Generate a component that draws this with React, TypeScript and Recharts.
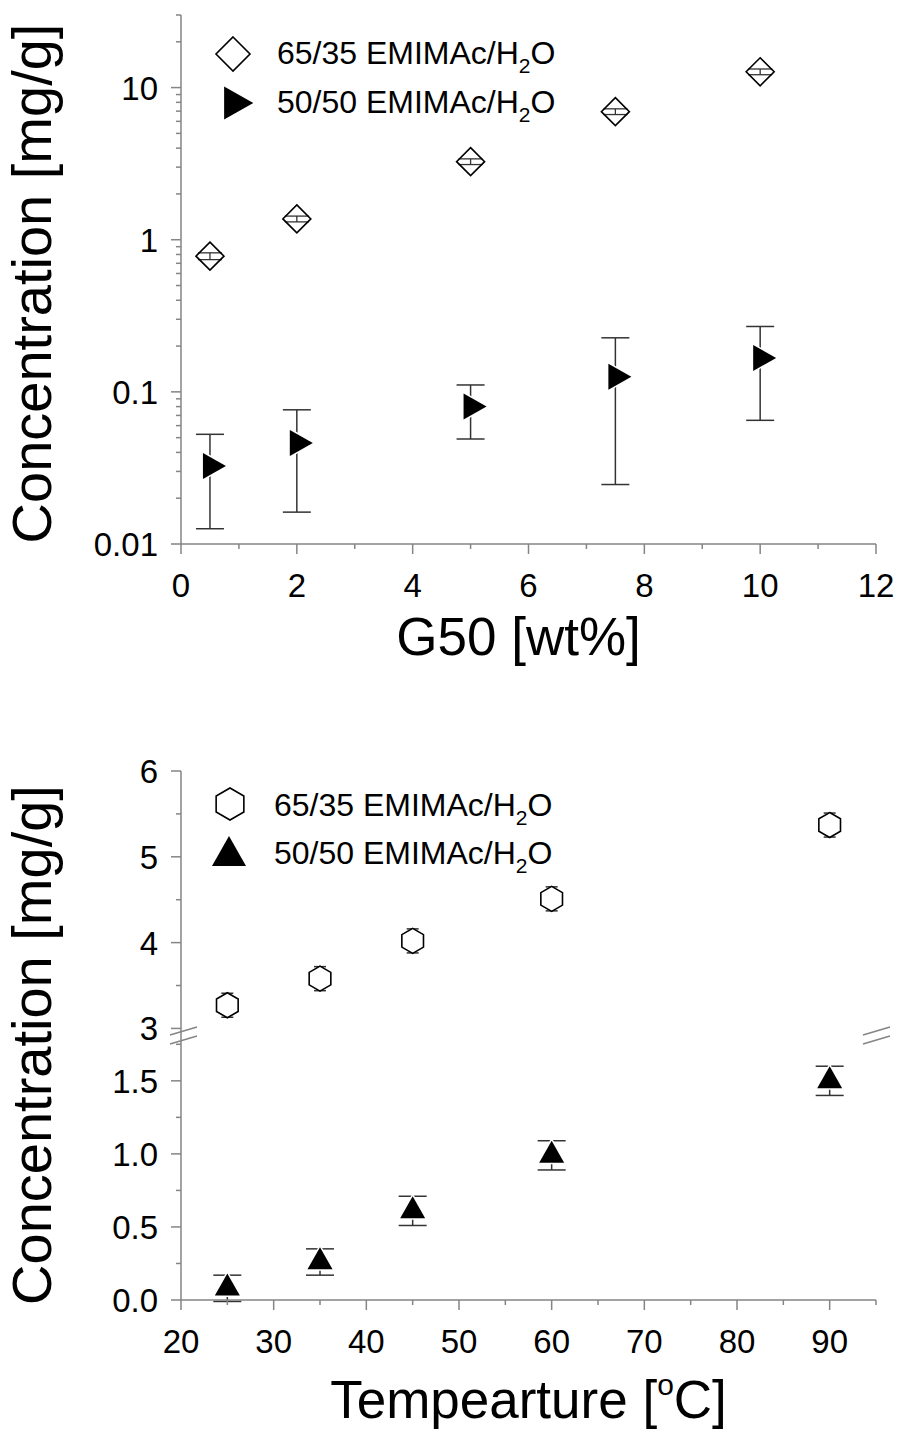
import {
  ScatterChart,
  Scatter,
  XAxis,
  YAxis,
  ErrorBar,
  Label,
  Legend,
} from 'recharts';

const FONT = '"Liberation Sans", Arial, Helvetica, sans-serif';
const AXIS_COLOR = '#858585';
const BAR_COLOR = '#333333';
const TICK_FONT = 33;
const TITLE_FONT = 53;
const Y_TITLE_FONT = 56;

// top panel: concentration vs G50 loading (log axis)
const G50_LOADING = [0.5, 2, 5, 7.5, 10];
const CONC_65_35 = [0.78, 1.37, 3.26, 6.95, 12.7];
const ERR_65_35 = [0.04, 0.06, 0.14, 0.3, 0.55];
const CONC_50_50 = [0.0326, 0.0462, 0.08, 0.1256, 0.167];
const ERR_50_50 = [0.02, 0.03, 0.031, 0.101, 0.102];

const G50_TICKS = [0, 1, 2, 3, 4, 5, 6, 7, 8, 9, 10, 11, 12];
const G50_LABELS = [0, 2, 4, 6, 8, 10, 12];
const LOG_TICKS = [
  0.01, 0.02, 0.03, 0.04, 0.05, 0.06, 0.07, 0.08, 0.09,
  0.1, 0.2, 0.3, 0.4, 0.5, 0.6, 0.7, 0.8, 0.9,
  1, 2, 3, 4, 5, 6, 7, 8, 9,
  10, 20, 30,
];
const LOG_LABELS = [0.01, 0.1, 1, 10];

// bottom panel: concentration vs temperature (broken y axis)
const TEMPS = [25, 35, 45, 60, 90];
const CONC_T_65_35 = [3.27, 3.58, 4.02, 4.51, 5.37];
const ERR_T_65_35 = [0.14, 0.14, 0.14, 0.14, 0.14];
const CONC_T_50_50 = [0.08, 0.26, 0.61, 0.99, 1.5];
const ERR_T_50_50 = [0.09, 0.09, 0.1, 0.1, 0.1];

const TEMP_TICKS = [20, 25, 30, 35, 40, 45, 50, 55, 60, 65, 70, 75, 80, 85, 90, 95];
const TEMP_LABELS = [20, 30, 40, 50, 60, 70, 80, 90];
const UPPER_TICKS = [3, 3.5, 4, 4.5, 5, 5.5, 6];
const UPPER_LABELS = [3, 4, 5, 6];
const LOWER_TICKS = [0, 0.25, 0.5, 0.75, 1, 1.25, 1.5, 1.75];
const LOWER_LABELS = [0, 0.5, 1, 1.5];

const topA = G50_LOADING.map((x, i) => ({ x, y: CONC_65_35[i], err: ERR_65_35[i] }));
const topB = G50_LOADING.map((x, i) => ({ x, y: CONC_50_50[i], err: ERR_50_50[i] }));
const botA = TEMPS.map((x, i) => ({ x, y: CONC_T_65_35[i], err: ERR_T_65_35[i] }));
const botB = TEMPS.map((x, i) => ({ x, y: CONC_T_50_50[i], err: ERR_T_50_50[i] }));

const AXIS_LINE = { stroke: AXIS_COLOR, strokeWidth: 1.5 };

// draws tick line (major/minor) and the label for majors
const TickMark = (props: any) => {
  const { x, y, payload, labels, side, format } = props;
  const v = payload.value;
  const major = labels.some((m: number) => Math.abs(m - v) < 1e-9);
  const len = major ? 10 : 5;
  const horizontal = side === 'bottom' || side === 'top';
  return (
    <g>
      {horizontal ? (
        <line x1={x} y1={y} x2={x} y2={y + len} stroke={AXIS_COLOR} strokeWidth={1.5} />
      ) : (
        <line x1={x - len} y1={y} x2={x} y2={y} stroke={AXIS_COLOR} strokeWidth={1.5} />
      )}
      {major && side === 'bottom' && (
        <text x={x} y={y + 53} textAnchor="middle" fontSize={TICK_FONT} fill="#000" fontFamily={FONT}>
          {format(v)}
        </text>
      )}
      {major && side === 'left' && (
        <text x={x - 23} y={y + 12} textAnchor="end" fontSize={TICK_FONT} fill="#000" fontFamily={FONT}>
          {format(v)}
        </text>
      )}
    </g>
  );
};

const axisCommon = {
  type: 'number' as const,
  allowDataOverflow: true,
  interval: 0 as const,
  tickSize: 0,
  tickMargin: 0,
  tickLine: false,
  axisLine: AXIS_LINE,
};

const Diamond = ({ cx, cy, r = 14 }: any) => (
  <polygon
    points={`${cx},${cy - r} ${cx + r},${cy} ${cx},${cy + r} ${cx - r},${cy}`}
    fill="none"
    stroke="#000"
    strokeWidth={1.6}
  />
);

const RightTriangle = ({ cx, cy, s = 1 }: any) => (
  <polygon
    points={`${cx - 7 * s},${cy - 13 * s} ${cx + 16 * s},${cy} ${cx - 7 * s},${cy + 13 * s}`}
    fill="#000"
    stroke="#fff"
    strokeWidth={3}
    style={{ paintOrder: 'stroke' }}
  />
);

const Hexagon = ({ cx, cy, r = 12.5, fill = '#fff' }: any) => {
  const pts = [0, 1, 2, 3, 4, 5]
    .map((k) => {
      const a = ((-90 + 60 * k) * Math.PI) / 180;
      return `${cx + r * Math.cos(a)},${cy + r * Math.sin(a)}`;
    })
    .join(' ');
  return <polygon points={pts} fill={fill} stroke="#000" strokeWidth={1.6} />;
};

// centred on its centroid, like the original plotting software
const UpTriangle = ({ cx, cy, s = 1 }: any) => (
  <polygon
    points={`${cx},${cy - 14.7 * s} ${cx + 12.5 * s},${cy + 7.3 * s} ${cx - 12.5 * s},${cy + 7.3 * s}`}
    fill="#000"
    stroke="#fff"
    strokeWidth={3}
    style={{ paintOrder: 'stroke' }}
  />
);

const LegendText = ({ x, y, ratio }: any) => (
  <text x={x} y={y} fontSize={32} fill="#000" fontFamily={FONT}>
    {ratio} EMIMAc/H
    <tspan fontSize={21} dy={9}>2</tspan>
    <tspan dy={-9}>O</tspan>
  </text>
);

const TopLegend = () => (
  <svg width={400} height={110} style={{ display: 'block', overflow: 'visible' }}>
    <Diamond cx={43} cy={34} r={17} />
    <LegendText x={87} y={44} ratio="65/35" />
    <RightTriangle cx={43} cy={83} s={1.27} />
    <LegendText x={87} y={93} ratio="50/50" />
  </svg>
);

const BottomLegend = () => (
  <svg width={400} height={110} style={{ display: 'block', overflow: 'visible' }}>
    <Hexagon cx={40} cy={44} r={16} fill="none" />
    <LegendText x={84} y={56} ratio="65/35" />
    <UpTriangle cx={39} cy={96} s={1.36} />
    <LegendText x={84} y={104} ratio="50/50" />
  </svg>
);

const YTitle = ({ cy }: { cy: number }) => (
  <text
    x={51}
    y={cy}
    transform={`rotate(-90, 51, ${cy})`}
    textAnchor="middle"
    fontSize={Y_TITLE_FONT}
    fill="#000"
    fontFamily={FONT}
  >
    Concentration [mg/g]
  </text>
);

function LoadingPanel() {
  return (
    <ScatterChart width={899} height={700} margin={{ top: 15, right: 23, bottom: 0, left: 0 }}>
      <XAxis
        {...axisCommon}
        xAxisId="b"
        dataKey="x"
        domain={[0, 12]}
        ticks={G50_TICKS}
        height={156}
        tick={<TickMark side="bottom" labels={G50_LABELS} format={String} />}
      >
        <Label
          content={({ viewBox }: any) => (
            <text
              x={viewBox.x + viewBox.width / 2 - 10}
              y={viewBox.y + 111}
              textAnchor="middle"
              fontSize={TITLE_FONT}
              fill="#000"
              fontFamily={FONT}
            >
              G50 [wt%]
            </text>
          )}
        />
      </XAxis>
      <XAxis
        {...axisCommon}
        xAxisId="t"
        orientation="top"
        domain={[0, 12]}
        ticks={G50_TICKS}
        height={0}
        tick={<TickMark side="top" labels={G50_LABELS} />}
      />
      <YAxis
        {...axisCommon}
        yAxisId="l"
        dataKey="y"
        scale="log"
        domain={[0.01, 30]}
        ticks={LOG_TICKS}
        width={181}
        tick={<TickMark side="left" labels={LOG_LABELS} format={String} />}
      >
        <Label content={({ viewBox }: any) => <YTitle cy={viewBox.y + viewBox.height / 2 + 4} />} />
      </YAxis>
      <YAxis
        {...axisCommon}
        yAxisId="r"
        orientation="right"
        scale="log"
        domain={[0.01, 30]}
        ticks={LOG_TICKS}
        width={0}
        tick={<TickMark side="right" labels={LOG_LABELS} />}
      />
      <Scatter xAxisId="b" yAxisId="l" data={topA} dataKey="y" shape={<Diamond />} isAnimationActive={false}>
        <ErrorBar dataKey="err" direction="y" width={12} stroke={BAR_COLOR} strokeWidth={1.3} isAnimationActive={false} />
      </Scatter>
      <Scatter xAxisId="b" yAxisId="l" data={topB} dataKey="y" shape={<RightTriangle />} isAnimationActive={false}>
        <ErrorBar dataKey="err" direction="y" width={14} stroke={BAR_COLOR} strokeWidth={1.5} isAnimationActive={false} />
      </Scatter>
      <Legend
        layout="vertical"
        align="center"
        verticalAlign="middle"
        wrapperStyle={{ left: 190, top: 20, width: 400, height: 110 }}
        content={() => <TopLegend />}
      />
    </ScatterChart>
  );
}

// upper segment of the broken temperature panel (3 - 6 mg/g)
function TemperatureUpper() {
  return (
    <ScatterChart width={899} height={380} margin={{ top: 71, right: 23, bottom: 43, left: 0 }}>
      <XAxis
        {...axisCommon}
        xAxisId="t"
        orientation="top"
        dataKey="x"
        domain={[20, 95]}
        ticks={TEMP_TICKS}
        height={0}
        tick={<TickMark side="top" labels={TEMP_LABELS} />}
      />
      <YAxis
        {...axisCommon}
        yAxisId="l"
        dataKey="y"
        domain={[2.9, 6]}
        ticks={UPPER_TICKS}
        width={181}
        tick={<TickMark side="left" labels={UPPER_LABELS} format={String} />}
      />
      <YAxis
        {...axisCommon}
        yAxisId="r"
        orientation="right"
        domain={[2.9, 6]}
        ticks={UPPER_TICKS}
        width={0}
        tick={<TickMark side="right" labels={UPPER_LABELS} />}
      />
      <Scatter xAxisId="t" yAxisId="l" data={botA} dataKey="y" shape={<Hexagon />} isAnimationActive={false}>
        <ErrorBar dataKey="err" direction="y" width={6} stroke={BAR_COLOR} strokeWidth={1.5} isAnimationActive={false} />
      </Scatter>
      <Legend
        layout="vertical"
        align="center"
        verticalAlign="middle"
        wrapperStyle={{ left: 190, top: 60, width: 400, height: 110 }}
        content={() => <BottomLegend />}
      />
    </ScatterChart>
  );
}

// lower segment of the broken temperature panel (0 - 1.8 mg/g)
function TemperatureLower() {
  return (
    <ScatterChart width={899} height={732} margin={{ top: 337, right: 23, bottom: 0, left: 0 }}>
      <XAxis
        {...axisCommon}
        xAxisId="b"
        dataKey="x"
        domain={[20, 95]}
        ticks={TEMP_TICKS}
        height={132}
        tick={<TickMark side="bottom" labels={TEMP_LABELS} format={String} />}
      >
        <Label
          content={({ viewBox }: any) => (
            <text
              x={viewBox.x + viewBox.width / 2}
              y={viewBox.y + 118}
              textAnchor="middle"
              fontSize={TITLE_FONT}
              fill="#000"
              fontFamily={FONT}
            >
              Tempearture [
              <tspan fontSize={30} dy={-23}>o</tspan>
              <tspan dy={23}>C]</tspan>
            </text>
          )}
        />
      </XAxis>
      <YAxis
        {...axisCommon}
        yAxisId="l"
        dataKey="y"
        domain={[0, 1.8]}
        ticks={LOWER_TICKS}
        width={181}
        tick={<TickMark side="left" labels={LOWER_LABELS} format={(v: number) => v.toFixed(1)} />}
      >
        <Label content={() => <YTitle cy={345} />} />
      </YAxis>
      <YAxis
        {...axisCommon}
        yAxisId="r"
        orientation="right"
        domain={[0, 1.8]}
        ticks={LOWER_TICKS}
        width={0}
        tick={<TickMark side="right" labels={LOWER_LABELS} />}
      />
      <Scatter xAxisId="b" yAxisId="l" data={botB} dataKey="y" shape={<UpTriangle />} isAnimationActive={false}>
        <ErrorBar dataKey="err" direction="y" width={14} stroke={BAR_COLOR} strokeWidth={1.5} isAnimationActive={false} />
      </Scatter>
    </ScatterChart>
  );
}

// the "//" break marks on both sides of the broken axis
const BreakMarks = () => (
  <svg
    width={899}
    height={1432}
    style={{ position: 'absolute', left: 0, top: 0, pointerEvents: 'none' }}
  >
    {[183, 876].map((ax) => (
      <g key={ax} stroke={AXIS_COLOR} strokeWidth={1.4}>
        <line x1={ax - 13} y1={1035} x2={ax + 14} y2={1027} />
        <line x1={ax - 13} y1={1044} x2={ax + 14} y2={1036} />
      </g>
    ))}
  </svg>
);

export default function App() {
  return (
    <div
      style={{
        position: 'absolute',
        left: 0,
        top: 0,
        width: 899,
        height: 1432,
        background: '#fff',
        overflow: 'hidden',
        fontFamily: FONT,
      }}
    >
      <div style={{ position: 'absolute', left: 0, top: 0 }}>
        <LoadingPanel />
      </div>
      <div style={{ position: 'absolute', left: 0, top: 700 }}>
        <TemperatureLower />
      </div>
      <div style={{ position: 'absolute', left: 0, top: 700 }}>
        <TemperatureUpper />
      </div>
      <BreakMarks />
    </div>
  );
}
